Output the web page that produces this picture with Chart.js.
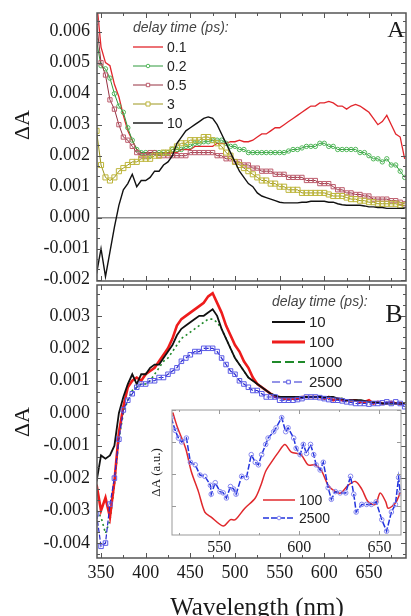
<!DOCTYPE html>
<html>
<head>
<meta charset="utf-8">
<script src="https://cdn.jsdelivr.net/npm/chart.js@4.4.1/dist/chart.umd.min.js"></script>
<style>
  body { margin: 0; background: #fff; }
  #wrap { position: relative; width: 411px; height: 616px; overflow: hidden; }
  canvas { position: absolute; }
  .lbl { position: absolute; font-family: "Liberation Serif", "Times New Roman", serif; color: #1a1a1a; text-align: center; white-space: nowrap; }
</style>
</head>
<body>
<div id="wrap">
  <canvas id="panelA" width="411" height="286" style="left:0;top:0"></canvas>
  <canvas id="panelB" width="411" height="336" style="left:0;top:280px"></canvas>
  <canvas id="insetB" width="271" height="160" style="left:140px;top:405px"></canvas>
  <div class="lbl" style="left:-8px;top:112px;width:60px;height:26px;line-height:26px;font-size:22px;transform:rotate(-90deg)">ΔA</div>
  <div class="lbl" style="left:-8px;top:409px;width:60px;height:26px;line-height:26px;font-size:22px;transform:rotate(-90deg)">ΔA</div>
  <div class="lbl" style="left:376px;top:17px;width:40px;line-height:24px;font-size:24px">A</div>
  <div class="lbl" style="left:374px;top:301px;width:40px;line-height:26px;font-size:26px">B</div>
  <div class="lbl" style="left:157px;top:594px;width:200px;line-height:25px;font-size:25px">Wavelength (nm)</div>
</div>
<script>
// wavelength grid (nm) shared by both panels
const wavelength = [
  345, 350, 355, 360, 365, 370, 375, 380, 385, 390,
  395, 400, 405, 410, 415, 420, 425, 430, 435, 440,
  445, 450, 455, 460, 465, 470, 475, 480, 485, 490,
  495, 500, 505, 510, 515, 520, 525, 530, 535, 540,
  545, 550, 555, 560, 565, 570, 575, 580, 585, 590,
  595, 600, 605, 610, 615, 620, 625, 630, 635, 640,
  645, 650, 655, 660, 665, 670, 675, 680, 685, 690
];

// panel A, short delays (ps)
const a_0_1 = [
  0.0070, 0.0055, 0.0050, 0.0049, 0.0043, 0.0039, 0.0033, 0.0028, 0.0025, 0.0022,
  0.0021, 0.0021, 0.0021, 0.0021, 0.0021, 0.0021, 0.0021, 0.0021, 0.0021, 0.0022,
  0.0022, 0.0022, 0.0023, 0.0023, 0.0023, 0.0023, 0.0023, 0.0024, 0.0024, 0.0024,
  0.00245, 0.00245, 0.0025, 0.00245, 0.00245, 0.0025, 0.0026, 0.0027, 0.0027, 0.0028,
  0.0029, 0.0029, 0.0030, 0.0031, 0.0032, 0.0033, 0.0034, 0.0035, 0.0036, 0.0036,
  0.0037, 0.0037, 0.00375, 0.0037, 0.0036, 0.0036, 0.0035, 0.0036, 0.00365, 0.0036,
  0.0035, 0.0034, 0.0032, 0.0030, 0.0031, 0.0033, 0.0030, 0.0027, 0.0026, 0.0019
];
const a_0_2 = [
  0.0057, 0.0049, 0.0048, 0.0045, 0.0040, 0.0036, 0.0034, 0.0029, 0.0025, 0.0022,
  0.0021, 0.0021, 0.0020, 0.0021, 0.0021, 0.0021, 0.0021, 0.0022, 0.0022, 0.0022,
  0.0023, 0.0023, 0.0024, 0.0024, 0.00245, 0.00245, 0.0025, 0.0025, 0.0025, 0.0024,
  0.0023, 0.0023, 0.0022, 0.0022, 0.0021, 0.0021, 0.0021, 0.0021, 0.0021, 0.0021,
  0.0021, 0.0021, 0.0021, 0.00215, 0.0022, 0.0022, 0.00225, 0.0023, 0.0023, 0.0023,
  0.0024, 0.0024, 0.0023, 0.0023, 0.0022, 0.0022, 0.0022, 0.0022, 0.0022, 0.0021,
  0.0021, 0.0020, 0.0019, 0.0019, 0.0018, 0.0019, 0.0017, 0.0017, 0.0015, 0.0013
];
const a_0_5 = [
  0.0063, 0.0050, 0.0046, 0.0038, 0.0035, 0.0030, 0.0026, 0.0025, 0.0023, 0.0021,
  0.0020, 0.0020, 0.0021, 0.0021, 0.0020, 0.0020, 0.0020, 0.0020, 0.0020, 0.0020,
  0.0020, 0.0021, 0.0021, 0.0021, 0.0021, 0.0021, 0.0021, 0.0020, 0.0020, 0.0019,
  0.0019, 0.0018, 0.0018, 0.0017, 0.0017, 0.0016, 0.0016, 0.0015, 0.0015, 0.0015,
  0.0014, 0.0014, 0.0014, 0.0013, 0.0013, 0.0013, 0.0013, 0.0012, 0.0012, 0.0012,
  0.0011, 0.0011, 0.0011, 0.0010, 0.0009, 0.0009, 0.0008, 0.0008, 0.00075, 0.00075,
  0.0007, 0.0007, 0.0006, 0.0006, 0.0006, 0.0006, 0.00055, 0.00055, 0.0005, 0.00045
];
const a_3 = [
  0.0028, 0.0017, 0.0013, 0.0012, 0.0013, 0.0015, 0.0016, 0.0017, 0.0018, 0.0018,
  0.0019, 0.0019, 0.0019, 0.0020, 0.0020, 0.0021, 0.0021, 0.0022, 0.0023, 0.0024,
  0.0024, 0.0025, 0.0025, 0.0025, 0.0026, 0.0026, 0.0025, 0.0024, 0.0023, 0.0021,
  0.0020, 0.0018, 0.0017, 0.0016, 0.0015, 0.0014, 0.0013, 0.0012, 0.0012, 0.0011,
  0.0011, 0.0010, 0.0010, 0.0009, 0.0009, 0.0009, 0.0008, 0.0008, 0.0008, 0.0008,
  0.0008, 0.0008, 0.00075, 0.0007, 0.0007, 0.0007, 0.00065, 0.0006, 0.0006, 0.00055,
  0.00055, 0.0005, 0.0005, 0.00045, 0.00045, 0.00045, 0.00045, 0.00045, 0.0004, 0.0004
];
const a_10 = [
  -0.0018, -0.0010, -0.0019, -0.0011, -0.0003, 0.0004, 0.0009, 0.0011, 0.0014, 0.0010,
  0.0012, 0.0012, 0.0013, 0.0015, 0.0015, 0.0017, 0.0018, 0.0020, 0.0024, 0.0026,
  0.0028, 0.0029, 0.0030, 0.0031, 0.0032, 0.00325, 0.0032, 0.0030, 0.0027, 0.0024,
  0.0021, 0.0018, 0.0015, 0.0013, 0.0011, 0.0010, 0.0008, 0.0007, 0.00065, 0.0006,
  0.00055, 0.0005, 0.00048, 0.00048, 0.00048, 0.00048, 0.0005, 0.0005, 0.00053, 0.00053,
  0.00053, 0.00053, 0.0005, 0.0005, 0.00045, 0.00042, 0.0004, 0.0004, 0.0004, 0.0004,
  0.00038, 0.00035, 0.00035, 0.00033, 0.00033, 0.0003, 0.0003, 0.0003, 0.0003, 0.0003
];

// panel B, long delays (ps)
const b_10 = [
  -0.0021, -0.0013, -0.0014, -0.0013, -0.0010, 0.0000, 0.0005, 0.0009, 0.0012, 0.0009,
  0.0012, 0.0012, 0.0014, 0.0015, 0.0015, 0.0017, 0.0019, 0.0021, 0.0024, 0.0026,
  0.0027, 0.0028, 0.0029, 0.0030, 0.0030, 0.0031, 0.0032, 0.0030, 0.0026, 0.0023,
  0.0020, 0.0017, 0.0015, 0.0013, 0.0011, 0.0010, 0.0009, 0.0008, 0.0007, 0.0006,
  0.00055, 0.0005, 0.0005, 0.0005, 0.0005, 0.0005, 0.0005, 0.0005, 0.0005, 0.0005,
  0.0005, 0.0005, 0.0005, 0.0005, 0.00045, 0.00045, 0.0004, 0.0004, 0.0004, 0.0004,
  0.00038, 0.00035, 0.00035, 0.00033, 0.0003, 0.0003, 0.0003, 0.0003, 0.0003, 0.0003
];
const b_100 = [
  -0.0022, -0.0030, -0.0026, -0.0032, -0.0021, -0.0006, 0.0002, 0.0008, 0.0010, 0.0011,
  0.0010, 0.0012, 0.0013, 0.0014, 0.0016, 0.0018, 0.0020, 0.0023, 0.0027, 0.0029,
  0.0030, 0.0031, 0.0032, 0.0033, 0.0034, 0.0036, 0.0037, 0.0034, 0.0031, 0.0027,
  0.0024, 0.0021, 0.0019, 0.0016, 0.0014, 0.0011, 0.0009, 0.0008, 0.0007, 0.0006,
  0.0005, 0.0005, 0.00045, 0.00045, 0.00045, 0.00045, 0.0005, 0.0005, 0.0005, 0.0005,
  0.0005, 0.00045, 0.0005, 0.0004, 0.00045, 0.0004, 0.0004, 0.0004, 0.0004, 0.00035,
  0.00035, 0.0004, 0.0003, 0.00035, 0.0003, 0.0003, 0.00035, 0.0003, 0.0003, 0.0003
];
const b_1000 = [
  -0.0030, -0.0032, -0.0037, -0.0033, -0.0022, -0.0008, 0.0000, 0.0004, 0.0007, 0.0008,
  0.0009, 0.0009, 0.0010, 0.0012, 0.0014, 0.0016, 0.0017, 0.0019, 0.0021, 0.0023,
  0.0024, 0.0025, 0.0026, 0.0027, 0.0028, 0.0029, 0.0029, 0.0028, 0.0026, 0.0023,
  0.0020, 0.0017, 0.0015, 0.0013, 0.0011, 0.0010, 0.0009, 0.0008, 0.0007, 0.0006,
  0.00055, 0.0005, 0.0005, 0.0005, 0.0005, 0.0005, 0.0005, 0.0005, 0.0005, 0.0005,
  0.0005, 0.0005, 0.0005, 0.0005, 0.00045, 0.00045, 0.0004, 0.0004, 0.0004, 0.0004,
  0.00038, 0.00035, 0.00035, 0.00033, 0.0003, 0.0003, 0.0003, 0.0003, 0.0003, 0.0003
];
const b_2500 = [
  -0.0031, -0.0041, -0.0040, -0.0028, -0.0020, -0.0008, 0.0001, 0.0004, 0.0006, 0.0008,
  0.0009, 0.0009, 0.0010, 0.0010, 0.0011, 0.0011, 0.0012, 0.0013, 0.0014, 0.0016,
  0.0017, 0.0018, 0.0019, 0.0019, 0.0020, 0.0020, 0.0020, 0.0019, 0.0017, 0.0015,
  0.0013, 0.0012, 0.0010, 0.0009, 0.0008, 0.0007, 0.0007, 0.0006, 0.0005, 0.0005,
  0.0005, 0.0004, 0.0004, 0.0004, 0.0004, 0.00042, 0.00045, 0.0005, 0.0005, 0.0005,
  0.00048, 0.00045, 0.00042, 0.0004, 0.0004, 0.00038, 0.00035, 0.00033, 0.0003, 0.0003,
  0.0003, 0.00028, 0.0003, 0.0003, 0.00032, 0.00035, 0.0003, 0.00035, 0.0003, 0.0002
];

// inset: normalised spectra, 520-665 nm
const insetNm100 = [521, 524, 529, 532.5, 537, 541, 545, 552.5, 557, 560, 566, 572.5, 576, 579, 582.5, 587, 591, 595, 601, 605.5,
  610, 614, 618, 622.5, 626, 630.5, 635, 639, 643, 647.5, 650.5, 654, 655.5, 660, 663];
const inset100 = [0.98, 0.86, 0.70, 0.52, 0.36, 0.20, 0.16, 0.09, 0.14, 0.14, 0.23, 0.31, 0.41, 0.52, 0.59, 0.67, 0.73, 0.67, 0.65, 0.57,
  0.57, 0.52, 0.41, 0.36, 0.35, 0.41, 0.44, 0.38, 0.28, 0.26, 0.35, 0.28, 0.23, 0.27, 0.35];
const insetNm2500 = [520, 522.5, 524.5, 526.5, 529.5, 532, 535, 538, 541, 544.5, 545, 547.5, 550.5, 552.5, 554.5, 557, 559, 560.5, 564, 567,
  570, 572.5, 574.5, 576.5, 579, 580.5, 584, 585.5, 589, 591.5, 593, 596.5, 598, 600.5, 602.5, 604.5, 607, 609, 610.5, 613,
  615, 618, 620, 622.5, 625.5, 629, 632, 634, 635.5, 639, 642, 645, 648, 651.5, 654.5, 657.5, 660, 662, 663];
const inset2500 = [0.94, 0.84, 0.78, 0.75, 0.78, 0.59, 0.57, 0.49, 0.48, 0.41, 0.34, 0.43, 0.36, 0.35, 0.31, 0.40, 0.38, 0.34, 0.48, 0.47,
  0.65, 0.59, 0.57, 0.65, 0.73, 0.78, 0.83, 0.86, 0.94, 0.83, 0.86, 0.78, 0.70, 0.65, 0.73, 0.66, 0.73, 0.65, 0.57, 0.53,
  0.59, 0.39, 0.30, 0.36, 0.35, 0.35, 0.48, 0.34, 0.20, 0.26, 0.26, 0.26, 0.28, 0.14, 0.05, 0.20, 0.26, 0.47, 0.35];

// tick labels
const xTicks = [350, 400, 450, 500, 550, 600, 650];
const yTicksA = [-0.002, -0.001, 0, 0.001, 0.002, 0.003, 0.004, 0.005, 0.006];
const yTicksB = [-0.004, -0.003, -0.002, -0.001, 0, 0.001, 0.002, 0.003];
const insetXTicks = [550, 600, 650];

Chart.defaults.font.family = '"Liberation Serif", "Times New Roman", serif';
Chart.defaults.color = '#1a1a1a';

const pts = (xs, ys) => xs.map((x, i) => ({ x: x, y: ys[i] }));

// fixed axis box size, and no extra room for labels hanging past the plot edges
const fixWidth = w => s => { s.width = w; s.paddingTop = 0; s.paddingBottom = 0; };
const fixHeight = h => s => { s.height = h; s.paddingLeft = 0; s.paddingRight = 0; };

// plot frame with inward major/minor ticks on every side
const frameTicks = {
  id: 'frameTicks',
  beforeDatasetsDraw(chart, args, o) {
    if (!o.fill) return;
    const a = chart.chartArea;
    chart.ctx.save();
    chart.ctx.fillStyle = o.fill;
    chart.ctx.fillRect(a.left, a.top, a.width, a.height);
    chart.ctx.restore();
  },
  afterDatasetsDraw(chart, args, o) {
    const { ctx, chartArea: a } = chart;
    const sx = chart.scales.x, sy = chart.scales.y;
    ctx.save();
    ctx.strokeStyle = o.color;
    ctx.lineWidth = 1;
    ctx.beginPath();
    const dx = o.xMajor / o.xSub;
    for (let k = Math.ceil(sx.min / dx); k * dx <= sx.max; k++) {
      const px = Math.round(sx.getPixelForValue(k * dx)) + 0.5;
      const len = k % o.xSub === 0 ? o.major : o.minor;
      ctx.moveTo(px, a.bottom); ctx.lineTo(px, a.bottom - len);
      ctx.moveTo(px, a.top); ctx.lineTo(px, a.top + len);
    }
    const dy = o.yMajor / o.ySub;
    for (let k = Math.ceil(sy.min / dy - 1e-9); k * dy <= sy.max + 1e-12; k++) {
      const py = Math.round(sy.getPixelForValue(k * dy)) + 0.5;
      const len = k % o.ySub === 0 ? o.major : o.minor;
      ctx.moveTo(a.left, py); ctx.lineTo(a.left + len, py);
      ctx.moveTo(a.right, py); ctx.lineTo(a.right - len, py);
    }
    ctx.stroke();
    ctx.lineWidth = o.width;
    ctx.strokeRect(a.left, a.top, a.width, a.height);
    ctx.restore();
  }
};

// key drawn inside the plot: line sample, marker, label
const seriesKey = {
  id: 'seriesKey',
  afterDraw(chart, args, o) {
    const ctx = chart.ctx;
    ctx.save();
    ctx.textBaseline = 'middle';
    let y = o.y;
    if (o.title) {
      ctx.font = 'italic 14px "Liberation Sans", Arial, sans-serif';
      ctx.fillStyle = '#444';
      ctx.fillText(o.title, o.x, y);
      y += o.gap;
    }
    o.order.forEach(i => {
      const ds = chart.data.datasets[i];
      const x0 = o.x, x1 = o.x + o.lineLen, xm = (x0 + x1) / 2;
      ctx.strokeStyle = ds.borderColor;
      ctx.lineWidth = ds.keyWidth || ds.borderWidth;
      ctx.setLineDash(ds.keyDash || ds.borderDash || []);
      ctx.beginPath();
      ctx.moveTo(x0, y); ctx.lineTo(x1, y);
      ctx.stroke();
      ctx.setLineDash([]);
      if (ds.pointRadius > 0) {
        const r = ds.pointRadius * 0.8;
        ctx.fillStyle = '#fff';
        ctx.strokeStyle = ds.pointBorderColor;
        ctx.lineWidth = 1;
        ctx.beginPath();
        if (ds.pointStyle === 'rect') {
          const h = r * Math.SQRT1_2;
          ctx.rect(xm - h, y - h, 2 * h, 2 * h);
        } else {
          ctx.arc(xm, y, r, 0, Math.PI * 2);
        }
        ctx.fill();
        ctx.stroke();
      }
      ctx.font = o.font;
      ctx.fillStyle = '#222';
      ctx.fillText(ds.label, x1 + 4, y + 1);
      y += o.gap;
    });
    ctx.restore();
  }
};

const lineSet = (label, xs, ys, opt) => Object.assign({
  label: label,
  data: pts(xs, ys),
  borderWidth: 1.3,
  pointRadius: 0,
  fill: false,
  tension: 0
}, opt);

const baseOptions = (extra) => Object.assign({
  responsive: false,
  animation: false,
  events: []
}, extra);

// panel A
new Chart(document.getElementById('panelA'), {
  type: 'line',
  data: {
    datasets: [
      lineSet('0.1', wavelength, a_0_1, { borderColor: '#e2262c', order: 4 }),
      lineSet('0.2', wavelength, a_0_2, { borderColor: '#2f9a3c', borderWidth: 1, pointRadius: 2.2, pointStyle: 'circle',
        pointBorderColor: '#52b85a', pointBackgroundColor: 'rgba(255,255,255,0)', pointBorderWidth: 1, order: 3 }),
      lineSet('0.5', wavelength, a_0_5, { borderColor: '#963040', borderWidth: 1, pointRadius: 3, pointStyle: 'rect',
        pointBorderColor: '#bc5c6c', pointBackgroundColor: 'rgba(255,255,255,0)', pointBorderWidth: 1, order: 2 }),
      lineSet('3', wavelength, a_3, { borderColor: '#9c961c', borderWidth: 1, pointRadius: 3.6, pointStyle: 'rect',
        pointBorderColor: '#bdb53a', pointBackgroundColor: 'rgba(255,255,255,0)', pointBorderWidth: 1, order: 1 }),
      lineSet('10', wavelength, a_10, { borderColor: '#111', borderWidth: 1.4, order: 0 })
    ]
  },
  options: baseOptions({
    layout: { padding: { top: 13, right: 1, bottom: 2, left: 0 } },
    scales: {
      x: { type: 'linear', min: 345.5, max: 691.5, display: false },
      y: {
        min: -0.00204, max: 0.0066,
        afterBuildTicks: s => { s.ticks = yTicksA.map(v => ({ value: v })); },
        afterFit: fixWidth(97),
        border: { display: false },
        grid: { drawTicks: false, lineWidth: 1.5, color: c => (c.tick && c.tick.value === 0) ? '#8c8c8c' : 'rgba(0,0,0,0)' },
        ticks: { padding: 7, font: { size: 18 }, callback: v => v.toFixed(3) }
      }
    },
    plugins: {
      legend: { display: false }, tooltip: { enabled: false },
      frameTicks: { color: '#555', width: 1.5, xMajor: 50, xSub: 2, yMajor: 0.001, ySub: 3, major: 5, minor: 3 },
      seriesKey: { x: 133, y: 28, gap: 19, lineLen: 30, title: 'delay time (ps):', font: '14px "Liberation Sans", Arial, sans-serif', order: [0, 1, 2, 3, 4] }
    }
  }),
  plugins: [frameTicks, seriesKey]
});

// panel B
new Chart(document.getElementById('panelB'), {
  type: 'line',
  data: {
    datasets: [
      lineSet('10', wavelength, b_10, { borderColor: '#111', borderWidth: 1.8, order: 1 }),
      lineSet('100', wavelength, b_100, { borderColor: '#ee1c1c', borderWidth: 2.6, keyWidth: 3, order: 2 }),
      lineSet('1000', wavelength, b_1000, { borderColor: '#1f8a2a', borderWidth: 1.6, borderDash: [2, 3], keyDash: [9, 4], keyWidth: 2, order: 3 }),
      lineSet('2500', wavelength, b_2500, { borderColor: '#2a2ad0', borderWidth: 1.2, borderDash: [5, 2], pointRadius: 3.2, pointStyle: 'rect',
        pointBorderColor: '#5c5ce6', pointBackgroundColor: 'rgba(255,255,255,0)', pointBorderWidth: 1, keyDash: [8, 3], order: 0 })
    ]
  },
  options: baseOptions({
    layout: { padding: { top: 4, right: 1, bottom: 0, left: 0 } },
    scales: {
      x: {
        type: 'linear', min: 345.5, max: 691.5,
        afterBuildTicks: s => { s.ticks = xTicks.map(v => ({ value: v })); },
        afterFit: fixHeight(58),
        border: { display: false },
        grid: { display: false, drawTicks: false },
        ticks: { padding: 4, font: { size: 18 }, maxRotation: 0, autoSkip: false }
      },
      y: {
        min: -0.00446, max: 0.00395,
        afterBuildTicks: s => { s.ticks = yTicksB.map(v => ({ value: v })); },
        afterFit: fixWidth(97),
        border: { display: false },
        grid: { display: false, drawTicks: false },
        ticks: { padding: 7, font: { size: 18 }, callback: v => v.toFixed(3) }
      }
    },
    plugins: {
      legend: { display: false }, tooltip: { enabled: false },
      frameTicks: { color: '#555', width: 1.5, xMajor: 50, xSub: 2, yMajor: 0.001, ySub: 3, major: 5, minor: 3 },
      seriesKey: { x: 272, y: 22, gap: 20, lineLen: 33, title: 'delay time (ps):', font: '15px "Liberation Sans", Arial, sans-serif', order: [0, 1, 2, 3] }
    }
  }),
  plugins: [frameTicks, seriesKey]
});

// inset of panel B
new Chart(document.getElementById('insetB'), {
  type: 'line',
  data: {
    datasets: [
      lineSet('100', insetNm100, inset100, { borderColor: '#e0282c', borderWidth: 1.5, tension: 0.3, order: 1 }),
      lineSet('2500', insetNm2500, inset2500, { borderColor: '#2233dd', borderWidth: 1.5, borderDash: [6, 2], pointRadius: 2.3, pointStyle: 'circle',
        pointBorderColor: '#8a8af0', pointBackgroundColor: 'rgba(255,255,255,0)', pointBorderWidth: 1, order: 0 })
    ]
  },
  options: baseOptions({
    layout: { padding: { top: 5, right: 10, bottom: 0, left: 0 } },
    scales: {
      x: {
        type: 'linear', min: 520.5, max: 663.5,
        afterBuildTicks: s => { s.ticks = insetXTicks.map(v => ({ value: v })); },
        afterFit: fixHeight(30),
        border: { display: false },
        grid: { display: false, drawTicks: false },
        ticks: { padding: 3, font: { size: 16 }, maxRotation: 0, autoSkip: false }
      },
      y: {
        min: 0.02, max: 1,
        afterFit: fixWidth(32),
        border: { display: false },
        grid: { display: false, drawTicks: false },
        ticks: { display: false },
        title: { display: true, text: 'ΔA (a.u.)', font: { size: 13 }, padding: { top: 9, bottom: 0 } }
      }
    },
    plugins: {
      legend: { display: false }, tooltip: { enabled: false },
      frameTicks: { fill: '#fff', color: '#999', width: 1, xMajor: 50, xSub: 2, yMajor: 0.25, ySub: 1, major: 4, minor: 2 },
      seriesKey: { x: 123, y: 95, gap: 18, lineLen: 32, font: '14px "Liberation Sans", Arial, sans-serif', order: [0, 1] }
    }
  }),
  plugins: [frameTicks, seriesKey]
});
</script>
</body>
</html>
